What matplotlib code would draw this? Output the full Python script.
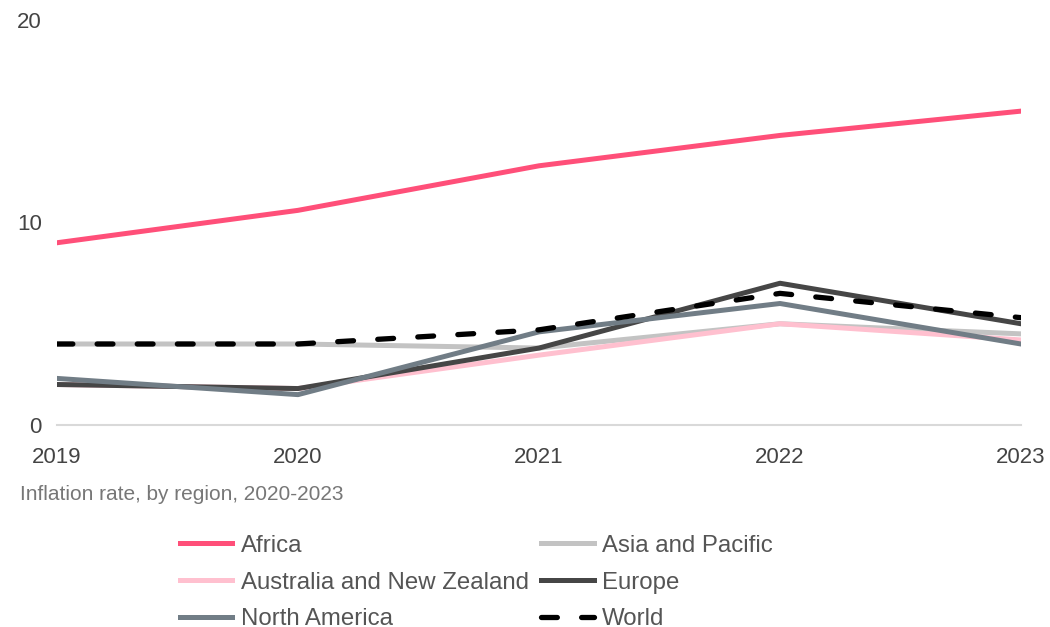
import matplotlib.pyplot as plt

plt.rcParams['font.family'] = ['Liberation Sans', 'DejaVu Sans']

# data
years = [2019, 2020, 2021, 2022, 2023]
africa = [9.0, 10.6, 12.8, 14.3, 15.5]
asia_pacific = [4.0, 4.0, 3.8, 5.0, 4.5]
australia_nz = [2.0, 1.8, 3.45, 5.0, 4.2]
europe = [2.0, 1.8, 3.8, 7.0, 5.0]
north_america = [2.3, 1.5, 4.6, 6.0, 4.0]
world = [4.0, 4.0, 4.7, 6.5, 5.3]

series = [
    ("Africa", africa, "#ff4f79", "-"),
    ("Asia and Pacific", asia_pacific, "#c3c3c3", "-"),
    ("Australia and New Zealand", australia_nz, "#ffc0cf", "-"),
    ("Europe", europe, "#464646", "-"),
    ("North America", north_america, "#717d86", "-"),
    ("World", world, "#000000", "--"),
]

fig = plt.figure(figsize=(10.5, 6.27), dpi=100)
ax = fig.add_axes([57 / 1050, 1 - 425 / 627, 964 / 1050, 405 / 627])

handles = {}
for name, vals, col, ls in series:
    if ls == "--":
        h, = ax.plot(years, vals, color=col, lw=3.8, ls=(0, (3.0, 4.6)), label=name,
                     dash_capstyle="round")
    else:
        h, = ax.plot(years, vals, color=col, lw=3.6, ls=ls, label=name)
    handles[name] = h

ax.set_xlim(2019, 2023)
ax.set_ylim(0, 20)
ax.set_yticks([0, 10, 20])
ax.set_xticks(years)
ax.tick_params(length=0, labelsize=16, labelcolor="#444444")
ax.tick_params(axis="x", pad=16)
ax.tick_params(axis="y", pad=11)
for s in ["top", "right", "left"]:
    ax.spines[s].set_visible(False)
ax.spines["bottom"].set_color("#d9d9d9")
ax.spines["bottom"].set_linewidth(1.5)

fig.text(20 / 1050, 1 - 495 / 627, "Inflation rate, by region, 2020-2023",
         fontsize=15, color="#777777", va="center")

# legend is filled row by row in the reference
order = ["Africa", "Australia and New Zealand", "North America",
         "Asia and Pacific", "Europe", "World"]
leg = fig.legend([handles[n] for n in order], order,
                 loc="upper left", bbox_to_anchor=(158 / 1050, 1 - 513 / 627),
                 ncol=2, frameon=False, fontsize=17.3, handlelength=2.2,
                 handletextpad=0.35, columnspacing=0.5, labelspacing=0.62)
for t in leg.get_texts():
    t.set_color("#555555")

fig.savefig("out.png", dpi=100)
